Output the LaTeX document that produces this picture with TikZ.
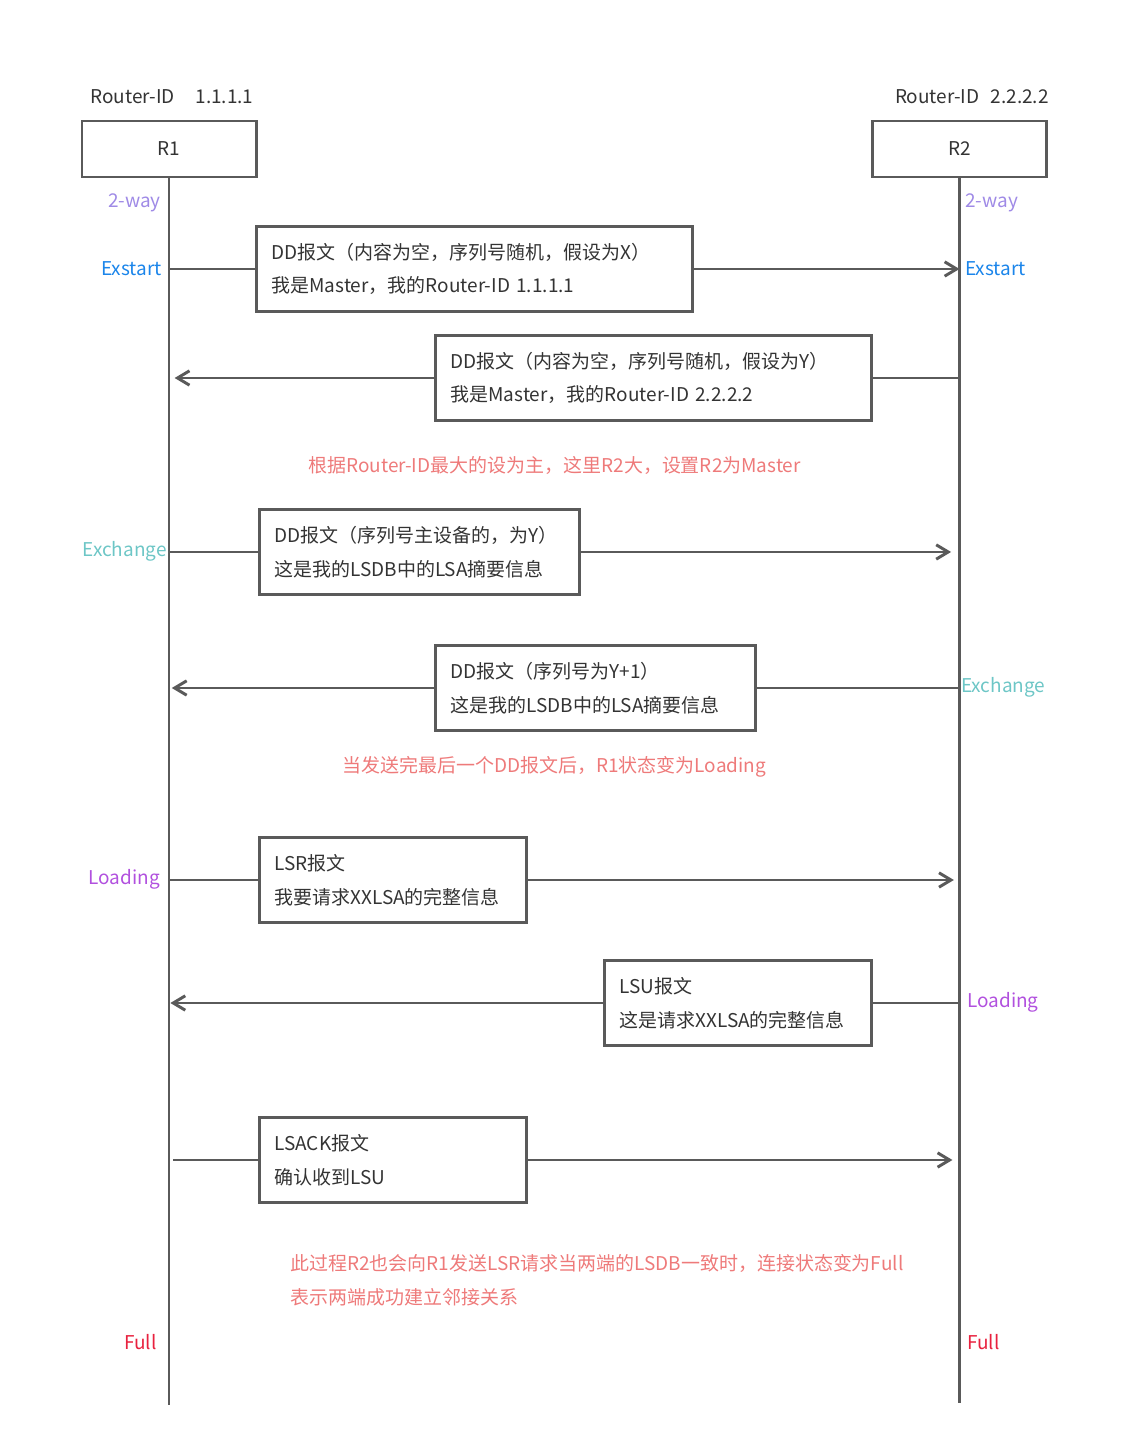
\documentclass[tikz,border=0pt]{standalone}
\usepackage{fontspec}
\setmainfont{Noto Sans CJK SC}
\usetikzlibrary{arrows.meta}
\definecolor{linegray}{HTML}{5A5A5A}
\definecolor{textgray}{HTML}{333333}
\definecolor{twowaycol}{HTML}{9F8AE6}
\definecolor{exstartcol}{HTML}{1B85EA}
\definecolor{exchangecol}{HTML}{6DC6C6}
\definecolor{loadingcol}{HTML}{B150DE}
\definecolor{fullcol}{HTML}{E8213E}
\definecolor{notecol}{HTML}{EE7A7A}
\tikzset{
    router box/.style = {
        shape = rectangle,
        align = center,
        draw  = linegray,
        line width = 2.1pt,
        text = textgray,
        minimum width=4.35cm,
        minimum height=1.4cm,
        inner sep=0pt
    },
    msg box/.style = {
        shape = rectangle,
        align = left,
        draw  = linegray,
        line width = 2.1pt,
        text = textgray,
        text width=#1,
        minimum height=2.125cm,
        inner xsep=0.375cm,
        inner ysep=0pt,
        anchor=north west
    },
    state left/.style = {
        text = #1,
        anchor = east,
        inner sep=0pt
    },
    state right/.style = {
        text = #1,
        anchor = west,
        inner sep=0pt
    },
    note/.style = {
        text = notecol,
        anchor = west,
        align = left,
        inner sep=0pt
    },
    wire/.style = {
        draw = linegray,
        line width = 2.1pt
    }
}

\begin{document}
\begin{tikzpicture}[x=0.025cm, y=-0.025cm, >={Straight Barb[length=3mm,width=3.6mm]},
    font=\fontsize{13.5pt}{24pt}\selectfont]
      \useasboundingbox (0,0) rectangle (1124,1452);

      \node (id1) at (90,97) [anchor=west, text=textgray, inner sep=0pt] {Router-ID\hspace{1.1em}1.1.1.1};
      \node (id2) at (1049,97) [anchor=east, text=textgray, inner sep=0pt] {Router-ID\hspace{0.6em}2.2.2.2};
      \node (r1) at (169,149) [router box] {R1};
      \node (r2) at (959.5,149) [router box] {R2};
      \coordinate (r1 end) at (169,1405);
      \coordinate (r2 end) at (959.5,1403);
      \draw [wire] (r1.south) -- (r1 end);
      \draw [wire] (r2.south) -- (r2 end);

      \node (m1) at (255,225) [msg box = 10.15cm] {DD报文（内容为空，序列号随机，假设为X）\\我是Master，我的Router-ID 1.1.1.1};
      \node (m2) at (434,334) [msg box = 10.15cm] {DD报文（内容为空，序列号随机，假设为Y）\\我是Master，我的Router-ID 2.2.2.2};
      \node (m3) at (258,508) [msg box = 7.25cm] {DD报文（序列号主设备的，为Y）\\这是我的LSDB中的LSA摘要信息};
      \node (m4) at (434,644) [msg box = 7.25cm] {DD报文（序列号为Y+1）\\这是我的LSDB中的LSA摘要信息};
      \node (m5) at (258,836) [msg box = 5.925cm] {LSR报文\\我要请求XXLSA的完整信息};
      \node (m6) at (603,959) [msg box = 5.925cm] {LSU报文\\这是请求XXLSA的完整信息};
      \node (m7) at (258,1116) [msg box = 5.925cm] {LSACK报文\\确认收到LSU};

      \draw [wire] (r1 |- m1.west) -- (m1.west);
      \draw [wire, ->] (m1.east) -- (m1.east -| r2);
      \draw [wire] (r2 |- m2.east) -- (m2.east);
      \draw [wire, ->, shorten >=4pt] (m2.west) -- (m2.west -| r1);
      \draw [wire] (r1 |- m3.west) -- (m3.west);
      \draw [wire, ->, shorten >=6pt] (m3.east) -- (m3.east -| r2);
      \draw [wire] (r2 |- m4.east) -- (m4.east);
      \draw [wire, ->, shorten >=2pt] (m4.west) -- (m4.west -| r1);
      \draw [wire] (r1 |- m5.west) -- (m5.west);
      \draw [wire, ->, shorten >=4pt] (m5.east) -- (m5.east -| r2);
      \draw [wire] (r2 |- m6.east) -- (m6.east);
      \draw [wire, ->, shorten >=1pt] (m6.west) -- (m6.west -| r1);
      \draw [wire] ([xshift=3pt]r1 |- m7.west) -- (m7.west);
      \draw [wire, ->, shorten >=5pt] (m7.east) -- (m7.east -| r2);

      \node (n1) at (308,465) [note] {根据Router-ID最大的设为主，这里R2大，设置R2为Master};
      \node (n2) at (342,767) [note] {当发送完最后一个DD报文后，R1状态变为Loading};
      \node (n3) at (290,1280) [note] {此过程R2也会向R1发送LSR请求当两端的LSDB一致时，连接状态变为Full\\表示两端成功建立邻接关系};

      \node (s1l) at (161,203) [state left = twowaycol] {2-way};
      \node (s1r) at (965,203) [state right = twowaycol] {2-way};
      \node (s2l) at (162,269) [state left = exstartcol] {Exstart};
      \node (s2r) at (965,269) [state right = exstartcol] {Exstart};
      \node (s3l) at (167,551) [state left = exchangecol] {Exchange};
      \node (s3r) at (961,687) [state right = exchangecol] {Exchange};
      \node (s4l) at (160,879) [state left = loadingcol] {Loading};
      \node (s4r) at (967,1002) [state right = loadingcol] {Loading};
      \node (s5l) at (157,1342) [state left = fullcol] {Full};
      \node (s5r) at (967,1342) [state right = fullcol] {Full};
    \end{tikzpicture}
\end{document}
